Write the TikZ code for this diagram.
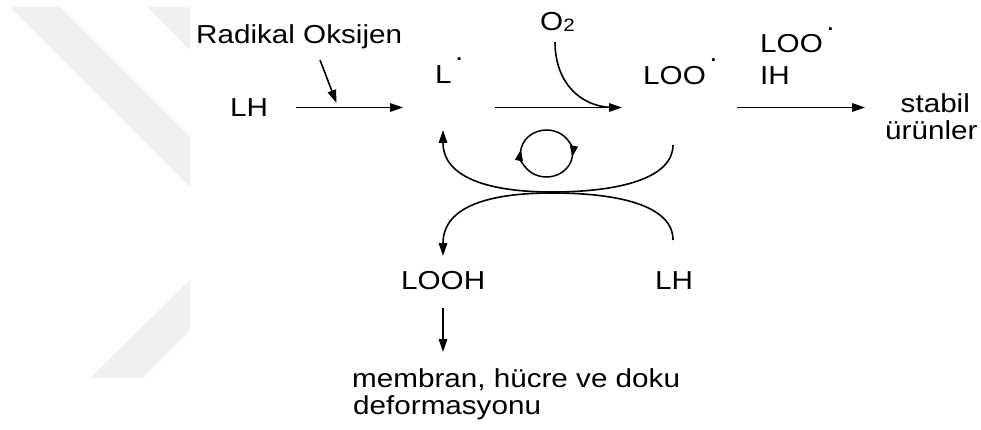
\documentclass[tikz,border=0pt]{standalone}
\usepackage{fontspec}
\setmainfont{Liberation Sans}[FakeStretch=1.14]
\usetikzlibrary{arrows.meta}
\newcommand\radot[1]{\hspace{3.5pt}\raisebox{#1}{.}}
\begin{document}
\begin{tikzpicture}[x=1pt,y=-1pt,
  txt/.style={inner sep=0pt, anchor=base west, font=\fontsize{26}{30}\selectfont},
  ln/.style={line width=1.6pt},
  arr/.style={ln, -{Triangle[length=13pt,width=8.5pt]}},
  carr/.style={line width=1.5pt, -{Triangle[length=11pt,width=8pt]}},
  wm/.style={fill=black!6, draw=none}]
\useasboundingbox (0,0) rectangle (981,430);
\fill[white] (0,0) rectangle (981,430);
% watermark
\fill[wm] (10,7) -- (60,7) -- (190,137) -- (190,187) -- cycle;
\fill[wm] (147,7) -- (190,7) -- (190,50) -- cycle;
\fill[wm] (190,280) -- (190,330) -- (142,378) -- (90,378) -- cycle;
% texts
\node[txt] (rad) at (196,44) {Radikal Oksijen};
\node[txt] (lh1) at (230,117) {LH};
\node[txt] (l) at (435,84) {L\radot{23pt}};
\node[txt] (o2) at (540,31) {O\raisebox{-1pt}{\fontsize{18}{20}\selectfont 2}};
\node[txt] (loo) at (643,84.5) {LOO\radot{23pt}};
\node[txt] (loo2) at (760,53) {LOO\radot{22pt}};
\node[txt] (ih) at (760,85) {IH};
\node[txt] (st) at (900.5,113) {stabil};
\node[txt] (ur) at (885,140) {ürünler};
\node[txt] (looh) at (401,289) {LOOH};
\node[txt] (lh2) at (655,289) {LH};
\node[txt] (mem) at (352,387) {membran, hücre ve doku};
\node[txt] (def) at (353,414) {deformasyonu};
% connector ends
\coordinate (a1s) at (296,107.5); \coordinate (a1e) at (403,107.5);
\coordinate (rs) at (320,60); \coordinate (re) at (336.5,103);
\coordinate (a2s) at (495,107.5); \coordinate (a2e) at (622,107.5);
\coordinate (os) at (555,42); \coordinate (oe) at (614,107.5);
\coordinate (a3s) at (737,107.5); \coordinate (a3e) at (865,107.5);
\coordinate (us) at (673,145); \coordinate (um) at (552,192); \coordinate (ue) at (443,130);
\coordinate (ls) at (673,240); \coordinate (lm) at (552,193); \coordinate (le) at (443,256);
\coordinate (ds) at (443,308); \coordinate (de) at (443,352);
\coordinate (cc) at (546.5,153.5);
% connectors
\draw[arr] (a1s) -- (a1e);
\draw[arr] (rs) -- (re);
\draw[arr] (a2s) -- (a2e);
\draw[ln] (os) .. controls (555,82) and (580,107.5) .. (oe);
\draw[arr] (a3s) -- (a3e);
\draw[arr] (us) .. controls (673,178) and (620,192) .. (um) .. controls (490,192) and (443,178) .. (ue);
\draw[arr] (ls) .. controls (673,206) and (620,193) .. (lm) .. controls (490,193) and (443,206) .. (le);
\draw[arr] (ds) -- (de);
\draw[carr] (cc) ++(190:26pt and 23.5pt) arc[start angle=190, end angle=-8, x radius=26pt, y radius=23.5pt];
\draw[carr] (cc) ++(15:26pt and 23.5pt) arc[start angle=15, end angle=-189, x radius=26pt, y radius=23.5pt];
\end{tikzpicture}
\end{document}
